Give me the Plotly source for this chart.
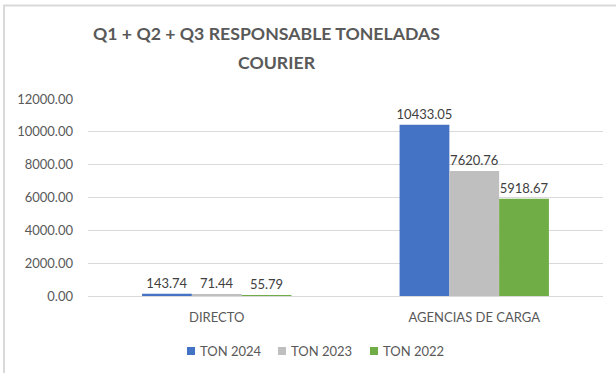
import plotly.graph_objects as go

categories = ["DIRECTO", "AGENCIAS DE CARGA"]
series_names = ["TON 2024", "TON 2023", "TON 2022"]
ton_2024 = [143.74, 10433.05]
ton_2023 = [71.44, 7620.76]
ton_2022 = [55.79, 5918.67]
colors = ["#4472C4", "#BFBFBF", "#70AD47"]

W, H = 616, 373
ML, MR, MT, MB = 88, 13, 99, 77
PW, PH = W - ML - MR, H - MT - MB


def px_x(x):
    return (x - ML) / PW


def px_y(y):
    return (H - MB - y) / PH


FONT = "Lato"
TEXT_GREY = "#595959"

fig = go.Figure()
for name, vals, col in zip(series_names, [ton_2024, ton_2023, ton_2022], colors):
    fig.add_trace(go.Bar(
        name=name, x=categories, y=vals, marker_color=col,
        marker_line_width=0,
        text=[f"{v:.2f}" for v in vals], textposition="outside",
        constraintext="none",
        textfont=dict(family=FONT, size=13, color="#404040"),
        cliponaxis=False, showlegend=False,
    ))

# Legend row: small square swatch followed by the series name
legend_swatch_x = [187, 278, 370]
legend_y = 351
annotations = [
    dict(text="<b>Q1 + Q2 + Q3 RESPONSABLE TONELADAS</b>", x=px_x(266), y=px_y(33),
         xref="paper", yref="paper", showarrow=False, xanchor="center", yanchor="middle",
         font=dict(family=FONT, size=17.7, color=TEXT_GREY)),
    dict(text="<b>COURIER</b>", x=px_x(277), y=px_y(63),
         xref="paper", yref="paper", showarrow=False, xanchor="center", yanchor="middle",
         font=dict(family=FONT, size=17.7, color=TEXT_GREY)),
]
shapes = [
    dict(type="line", xref="paper", yref="paper", x0=px_x(3), x1=px_x(W), y0=px_y(5.5), y1=px_y(5.5),
         line=dict(color="#D9D9D9", width=2)),
    dict(type="line", xref="paper", yref="paper", x0=px_x(4), x1=px_x(4), y0=px_y(5), y1=px_y(H),
         line=dict(color="#D9D9D9", width=2)),
]
for name, col, sx in zip(series_names, colors, legend_swatch_x):
    shapes.append(dict(type="rect", xref="paper", yref="paper",
                       x0=px_x(sx), x1=px_x(sx + 8), y0=px_y(legend_y - 4), y1=px_y(legend_y + 4),
                       fillcolor=col, line=dict(width=0)))
    annotations.append(dict(text=name, x=px_x(sx + 11), y=px_y(legend_y),
                            xref="paper", yref="paper", showarrow=False,
                            xanchor="left", yanchor="middle",
                            font=dict(family=FONT, size=13, color=TEXT_GREY)))

fig.update_layout(
    width=W, height=H,
    margin=dict(l=ML, r=MR, t=MT, b=MB, autoexpand=False),
    paper_bgcolor="white", plot_bgcolor="white",
    barmode="group", bargap=0.42, bargroupgap=0,
    font=dict(family=FONT, color=TEXT_GREY, size=13),
    showlegend=False,
    xaxis=dict(showgrid=False, showline=False, ticks="", automargin=False,
               ticklabelstandoff=12,
               tickfont=dict(family=FONT, size=13, color=TEXT_GREY)),
    yaxis=dict(range=[0, 12000], dtick=2000, tickformat=".2f", automargin=False,
               showgrid=True, gridcolor="#D9D9D9", gridwidth=1,
               zeroline=True, zerolinecolor="#D9D9D9", zerolinewidth=1,
               showline=False, ticks="", ticklabelstandoff=14,
               tickfont=dict(family=FONT, size=13, color=TEXT_GREY)),
    annotations=annotations,
    shapes=shapes,
)

fig.write_html("out.html")
